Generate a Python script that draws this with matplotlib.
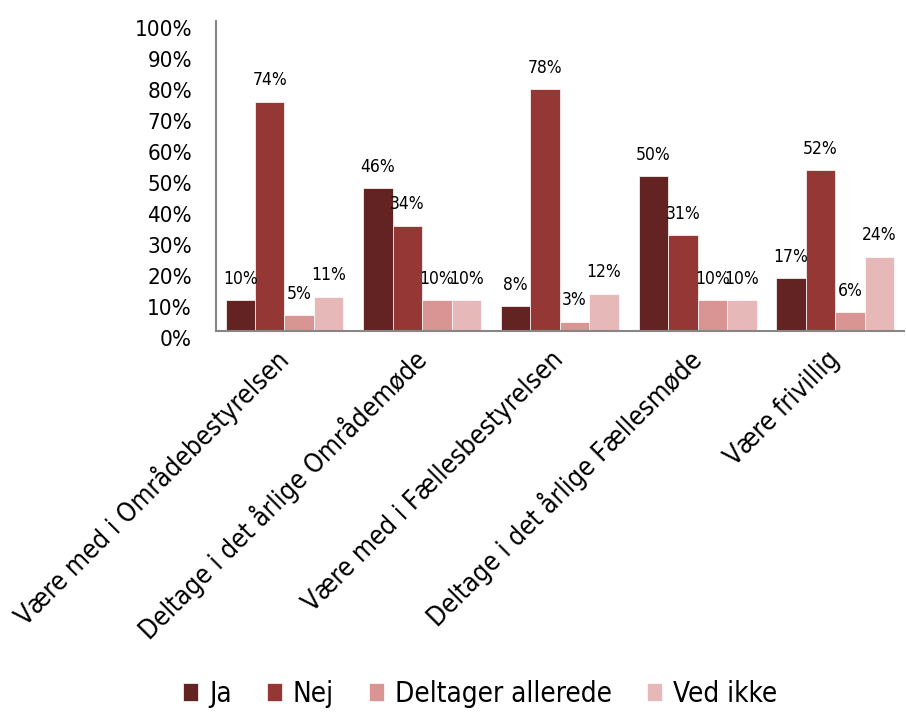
import numpy as np
import matplotlib.pyplot as plt
from matplotlib.transforms import ScaledTranslation

categories = ['Være med i Områdebestyrelsen', 'Deltage i det årlige Områdemøde',
              'Være med i Fællesbestyrelsen', 'Deltage i det årlige Fællesmøde',
              'Være frivillig']
series = ['Ja', 'Nej', 'Deltager allerede', 'Ved ikke']
ja = [10, 46, 8, 50, 17]
nej = [74, 34, 78, 31, 52]
deltager = [5, 10, 3, 10, 6]
ved_ikke = [11, 10, 12, 10, 24]
colors = ['#632323', '#953735', '#D99594', '#E6B9B8']

plt.rcParams['font.family'] = 'DejaVu Sans'
plt.rcParams['font.stretch'] = 'condensed'
fig = plt.figure(figsize=(9.06, 7.13), dpi=100)
ax = fig.add_axes([0.238, 0.536, 0.76, 0.434])

x = np.arange(len(categories))
w = 0.214
for i, (vals, name) in enumerate(zip([ja, nej, deltager, ved_ikke], series)):
    pos = x + (i - 1.5) * w
    bars = ax.bar(pos, vals, w, color=colors[i], label=name, edgecolor='white', linewidth=0.5)
    for b, v in zip(bars, vals):
        ax.text(b.get_x() + b.get_width() / 2, v + 4, f'{v}%', ha='center', va='bottom', fontsize=12.5)

ax.set_xlim(-0.5, len(categories) - 0.5)
ax.set_ylim(0, 100)
ax.set_yticks(range(0, 101, 10))
ax.set_yticklabels([f'{t}%' for t in range(0, 101, 10)], fontsize=16)
ax.set_xticks(x)
ax.set_xticklabels(categories, rotation=45, ha='right', va='center', rotation_mode='anchor', fontsize=18.8)
ax.tick_params(length=0)
ax.tick_params(axis='y', pad=17)
ax.tick_params(axis='x', pad=18)
shift = ScaledTranslation(0, -0.07, fig.dpi_scale_trans)
for lbl in ax.get_yticklabels():
    lbl.set_transform(lbl.get_transform() + shift)
for s in ['top', 'right']:
    ax.spines[s].set_visible(False)
for s in ['left', 'bottom']:
    ax.spines[s].set_color('#868686')
    ax.spines[s].set_linewidth(1.5)

fig.legend(loc='lower center', bbox_to_anchor=(0.53, -0.028), ncol=4, frameon=False,
           fontsize=20, handlelength=0.55, handleheight=0.6, columnspacing=1.25, handletextpad=0.4)

fig.savefig('out.png', dpi=100)
